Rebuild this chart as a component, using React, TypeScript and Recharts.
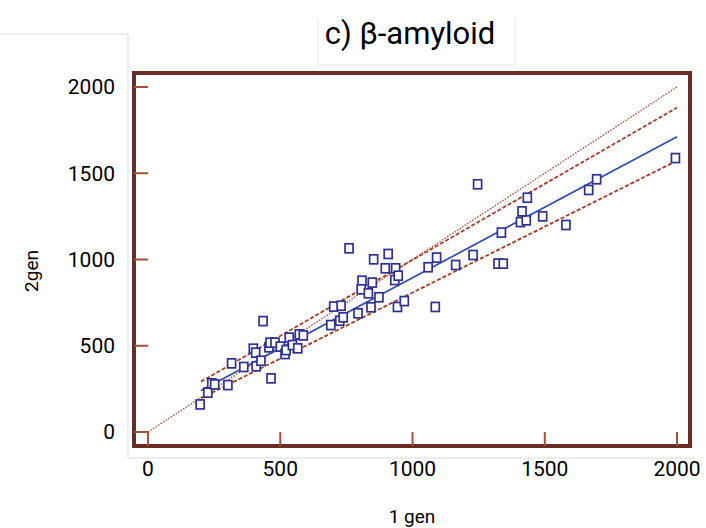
import React from 'react';
import { ScatterChart, Scatter, XAxis, YAxis, ReferenceArea, ReferenceLine } from 'recharts';

const gen1 = [197, 226, 241, 252, 302, 316, 362, 409, 398, 407, 427, 435, 465, 457, 461, 480, 500, 518, 522, 534, 546, 566, 572, 587, 691, 702, 730, 725, 738, 794, 809, 806, 833, 848, 843, 873, 897, 936, 933, 946, 943, 969, 853, 908, 760, 1059, 1091, 1086, 1163, 1229, 1246, 1323, 1343, 1336, 1408, 1430, 1414, 1434, 1492, 1580, 1666, 1696, 1994];
const gen2 = [160, 228, 282, 276, 272, 398, 377, 381, 483, 460, 413, 643, 311, 491, 518, 518, 495, 452, 475, 547, 504, 485, 566, 560, 620, 727, 732, 645, 665, 688, 877, 827, 804, 866, 723, 781, 949, 949, 881, 906, 725, 759, 1001, 1032, 1065, 955, 1011, 725, 968, 1026, 1436, 976, 976, 1156, 1217, 1227, 1279, 1358, 1250, 1200, 1403, 1465, 1588];

const xTicks = [0, 500, 1000, 1500, 2000];
const yTicks = [0, 500, 1000, 1500, 2000];

const identityLine = [{ x: 0, y: 0 }, { x: 2000, y: 2000 }];
const fitLine = [{ x: 200, y: 240 }, { x: 2000, y: 1712 }];
const upperBand = [{ x: 200, y: 292 }, { x: 2000, y: 1880 }];
const lowerBand = [{ x: 200, y: 196 }, { x: 2000, y: 1573 }];

const xDomain: [number, number] = [-53, 2049];
const yDomain: [number, number] = [-81, 2081];

const points = gen1.map((x, i) => ({ x, y: gen2[i] }));

const FRAME = '#6B2D22';
const TICK = '#A4503A';
const NAVY = '#2E3192';
const FONT = 'Roboto, "Noto Sans", sans-serif';

const Square = (props: any) => {
  const { cx, cy } = props;
  if (cx == null || cy == null) return <g />;
  return <rect x={cx - 4} y={cy - 4.5} width={8} height={9} fill="#fff" stroke={NAVY} strokeWidth={1.7} />;
};
const Nothing = () => <g />;

export default function App() {
  return (
    <div style={{ position: 'absolute', left: 0, top: 0, width: 706, height: 528, background: '#fff' }}>
      <svg width={706} height={528} style={{ position: 'absolute', left: 0, top: 0 }}>
        <line x1={0} y1={34} x2={128} y2={34} stroke="#e2e2e2" strokeWidth={1} />
        <line x1={128} y1={34} x2={128} y2={458} stroke="#dcdcdc" strokeWidth={1} />
        <line x1={128} y1={458} x2={694} y2={458} stroke="#dcdcdc" strokeWidth={1} />
        <line x1={318} y1={18} x2={318} y2={65} stroke="#e6e6e6" strokeWidth={1} />
        <line x1={515} y1={18} x2={515} y2={65} stroke="#e6e6e6" strokeWidth={1} />
        <line x1={318} y1={65} x2={515} y2={65} stroke="#e6e6e6" strokeWidth={1} />
        <text x={410} y={44} textAnchor="middle" fontFamily={FONT} fontSize={31} fill="#000">c) β-amyloid</text>
        <text x={38} y={271} textAnchor="middle" fontFamily={FONT} fontSize={19} fill="#000" transform="rotate(-90 38 271)">2gen</text>
      </svg>
      <div style={{ position: 'absolute', left: 0, top: 0 }}>
        <ScatterChart width={706} height={528} margin={{ top: 73, right: 16, bottom: 0, left: 0 }}>
          <XAxis
            type="number"
            dataKey="x"
            domain={xDomain}
            allowDataOverflow
            ticks={xTicks}
            axisLine={false}
            tickLine={false}
            tickSize={0}
            tickMargin={15}
            height={82}
            tick={{ fill: '#000', fontSize: 21, fontFamily: FONT }}
            label={{ value: '1 gen', position: 'insideBottom', offset: 5, fill: '#000', fontSize: 19, fontFamily: FONT }}
          />
          <YAxis
            type="number"
            dataKey="y"
            domain={yDomain}
            allowDataOverflow
            ticks={yTicks}
            axisLine={false}
            tickLine={false}
            tickSize={0}
            tickMargin={19}
            width={134}
            tick={{ fill: '#000', fontSize: 21, fontFamily: FONT }}
          />
          {xTicks.map((t) => (
            <ReferenceLine key={'xt' + t} segment={[{ x: t, y: yDomain[0] }, { x: t, y: 0 }]} stroke={TICK} strokeWidth={2} ifOverflow="visible" />
          ))}
          {yTicks.map((t) => (
            <ReferenceLine key={'yt' + t} segment={[{ x: xDomain[0], y: t }, { x: 0, y: t }]} stroke={TICK} strokeWidth={2} ifOverflow="visible" />
          ))}
          <Scatter data={identityLine} line={{ stroke: '#B4503A', strokeWidth: 1.4, strokeDasharray: '1.5 1.5' }} shape={Nothing} isAnimationActive={false} />
          <Scatter data={upperBand} line={{ stroke: '#A83A22', strokeWidth: 1.8, strokeDasharray: '4 2' }} shape={Nothing} isAnimationActive={false} />
          <Scatter data={lowerBand} line={{ stroke: '#A83A22', strokeWidth: 1.8, strokeDasharray: '4 2' }} shape={Nothing} isAnimationActive={false} />
          <Scatter data={fitLine} line={{ stroke: '#2F4FAE', strokeWidth: 1.7 }} shape={Nothing} isAnimationActive={false} />
          <Scatter data={points} shape={Square} isAnimationActive={false} />
          <ReferenceArea x1={xDomain[0]} x2={xDomain[1]} y1={yDomain[0]} y2={yDomain[1]} fill="none" fillOpacity={0} stroke={FRAME} strokeWidth={4} ifOverflow="visible" />
        </ScatterChart>
      </div>
    </div>
  );
}
